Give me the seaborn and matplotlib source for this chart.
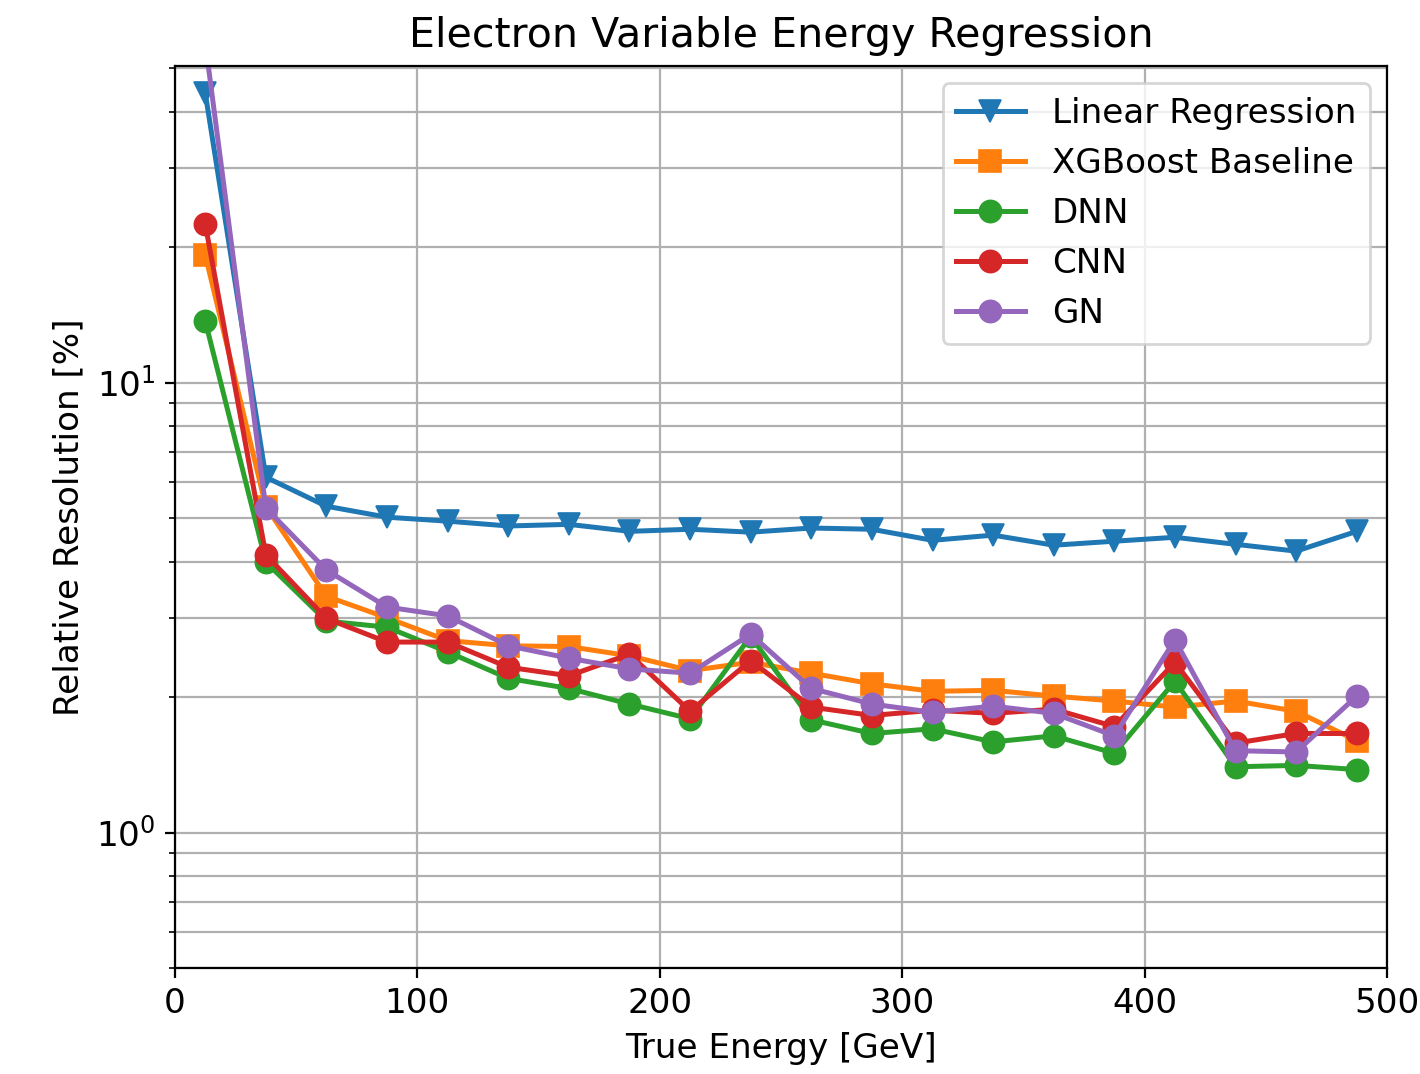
import numpy as np
import pandas as pd
import matplotlib
matplotlib.use("Agg")
import matplotlib.pyplot as plt
import seaborn as sns

energy = [12.5, 37.5, 62.5, 87.5, 112.5, 137.5, 162.5, 187.5, 212.5, 237.5,
          262.5, 287.5, 312.5, 337.5, 362.5, 387.5, 412.5, 437.5, 462.5, 487.5]

linear_regression = [44.0, 6.16, 5.31, 5.02, 4.92, 4.80, 4.84, 4.67, 4.72, 4.65,
                     4.75, 4.72, 4.46, 4.58, 4.35, 4.44, 4.53, 4.37, 4.22, 4.67]
xgboost_baseline = [19.2, 5.3, 3.35, 3.0, 2.67, 2.60, 2.59, 2.47, 2.29, 2.39,
                    2.26, 2.14, 2.06, 2.07, 2.01, 1.96, 1.90, 1.96, 1.86, 1.60]
dnn = [13.7, 3.99, 2.95, 2.86, 2.52, 2.20, 2.09, 1.93, 1.79, 2.73,
       1.78, 1.66, 1.70, 1.59, 1.64, 1.50, 2.17, 1.40, 1.41, 1.38]
cnn = [22.5, 4.14, 2.99, 2.65, 2.65, 2.33, 2.23, 2.49, 1.86, 2.41,
       1.90, 1.82, 1.87, 1.84, 1.88, 1.72, 2.39, 1.58, 1.66, 1.66]
gn = [57.0, 5.26, 3.83, 3.17, 3.03, 2.60, 2.44, 2.31, 2.26, 2.76,
      2.09, 1.93, 1.85, 1.91, 1.84, 1.64, 2.68, 1.52, 1.51, 2.01]

series_names = ["Linear Regression", "XGBoost Baseline", "DNN", "CNN", "GN"]
series_values = [linear_regression, xgboost_baseline, dnn, cnn, gn]
series_colors = ["#1f77b4", "#ff7f0e", "#2ca02c", "#d62728", "#9467bd"]
series_markers = ["v", "s", "o", "o", "o"]

plt.rcParams["font.size"] = 12.3
plt.rcParams["font.family"] = ["DejaVu Sans"]

fig = plt.figure(figsize=(7.1, 5.37), dpi=200)
ax = fig.add_axes([0.1232, 0.0987, 0.8536, 0.8398])

for name, vals, col, mk in zip(series_names, series_values, series_colors, series_markers):
    df = pd.DataFrame({"x": energy, "y": vals})
    sns.lineplot(data=df, x="x", y="y", ax=ax, color=col, marker=mk,
                 markersize=8, markeredgecolor=col, markeredgewidth=0.6,
                 linewidth=1.8, label=name, sort=False)

ax.set_yscale("log")
ax.set_xlim(0, 500)
ax.set_ylim(0.5, 50.5)
ax.grid(True, which="major", axis="both", color="#b0b0b0", linewidth=0.8)
ax.grid(True, which="minor", axis="y", color="#b0b0b0", linewidth=0.8)
ax.set_axisbelow(True)
ax.set_title("Electron Variable Energy Regression", fontsize=14.8, pad=7)
ax.set_xlabel("True Energy [GeV]", fontsize=12.3)
ax.set_ylabel("Relative Resolution [%]", fontsize=12.3)
ax.tick_params(labelsize=12.3)
ax.legend(loc="upper right", fontsize=12.3)

fig.savefig("out.png", dpi=200)
